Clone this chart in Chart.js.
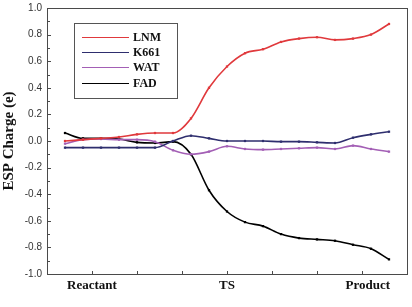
<!DOCTYPE html>
<html>
<head>
<meta charset="utf-8">
<script src="https://cdn.jsdelivr.net/npm/chart.js@4"></script>
<style>
html,body{margin:0;padding:0;background:#fff;}
#wrap{width:412px;height:307px;position:relative;}
</style>
</head>
<body>
<div id="wrap"><canvas id="c" width="412" height="307"></canvas></div>
<script>
// ---- data ----
const seriesNames = ['LNM', 'K661', 'WAT', 'FAD'];
const seriesColors = ['#e0393c', '#2e2e6e', '#a35fb5', '#000000'];
const xPositions = [0.4, 0.8, 1.2, 1.6, 2.0, 2.4, 2.8, 3.2, 3.6, 4.0, 4.4, 4.8, 5.2, 5.6, 6.0, 6.4, 6.8, 7.2, 7.6];
const lnm  = [0.00, 0.01, 0.02, 0.03, 0.05, 0.06, 0.06, 0.17, 0.40, 0.56, 0.66, 0.69, 0.745, 0.77, 0.78, 0.76, 0.77, 0.80, 0.88];
const k661 = [-0.05, -0.05, -0.05, -0.05, -0.05, -0.05, 0.00, 0.04, 0.02, 0.00, 0.00, 0.00, -0.005, -0.005, -0.01, -0.015, 0.025, 0.05, 0.07];
const wat  = [-0.02, 0.01, 0.015, 0.01, 0.01, -0.005, -0.07, -0.10, -0.08, -0.04, -0.06, -0.065, -0.06, -0.055, -0.05, -0.06, -0.035, -0.06, -0.08];
const fad  = [0.06, 0.02, 0.02, 0.015, -0.01, -0.015, -0.005, -0.10, -0.37, -0.53, -0.61, -0.64, -0.70, -0.73, -0.74, -0.75, -0.78, -0.81, -0.89];
const stageLabels = ['Reactant', 'TS', 'Product'];
const stagePositions = [1, 4, 7.13];
const yTicks = [-1.0, -0.8, -0.6, -0.4, -0.2, 0.0, 0.2, 0.4, 0.6, 0.8, 1.0];
const yTitle = 'ESP Charge (e)';

const allSeries = [lnm, k661, wat, fad];

const datasets = allSeries.map((vals, i) => ({
  label: seriesNames[i],
  data: vals.map((v, j) => ({x: xPositions[j], y: v})),
  borderColor: seriesColors[i],
  backgroundColor: seriesColors[i],
  borderWidth: 1.6,
  pointStyle: 'rect',
  pointRadius: 1.6,
  pointBorderWidth: 0,
  tension: 0.4,
  cubicInterpolationMode: 'monotone'
}));

const frameColor = '#4a4a4a';

const framePlugin = {
  id: 'frame',
  afterDraw(chart) {
    const {ctx, chartArea: a, scales} = chart;
    ctx.save();
    ctx.strokeStyle = frameColor;
    ctx.lineWidth = 1;
    ctx.strokeRect(Math.round(a.left) + 0.5, Math.round(a.top) + 0.5,
                   Math.round(a.right - a.left), Math.round(a.bottom - a.top));
    // y ticks (inward)
    ctx.beginPath();
    for (let k = -10; k <= 10; k++) {
      const y = Math.round(scales.y.getPixelForValue(k / 10)) + 0.5;
      const len = (k % 2 === 0) ? 4 : 3;
      ctx.moveTo(a.left, y);
      ctx.lineTo(a.left + len, y);
    }
    // x ticks (inward)
    for (let k = 1; k <= 7; k++) {
      const x = Math.round(scales.x.getPixelForValue(k)) + 0.5;
      ctx.moveTo(x, a.bottom);
      ctx.lineTo(x, a.bottom - 3);
    }
    ctx.stroke();

    // legend
    const lx = a.left + 27, ly = a.top + 15, lw = 103, lh = 75;
    ctx.strokeStyle = '#555';
    ctx.strokeRect(Math.round(lx) + 0.5, Math.round(ly) + 0.5, lw, lh);
    ctx.font = 'bold 12px "Liberation Serif", "Times New Roman", serif';
    ctx.textBaseline = 'middle';
    chart.data.datasets.forEach((ds, i) => {
      const yy = Math.round(ly + 14 + i * 15.2) + 0.5;
      ctx.strokeStyle = ds.borderColor;
      ctx.lineWidth = 1.1;
      ctx.beginPath();
      ctx.moveTo(lx + 8, yy);
      ctx.lineTo(lx + 55, yy);
      ctx.stroke();
      ctx.fillStyle = '#111';
      ctx.fillText(ds.label, lx + 59, yy + 0.5);
    });
    ctx.restore();
  }
};

new Chart(document.getElementById('c'), {
  type: 'line',
  data: {datasets},
  options: {
    responsive: false,
    animation: false,
    devicePixelRatio: 1,
    layout: {padding: {top: 8, right: 5, left: 0, bottom: 0}},
    plugins: {legend: {display: false}, tooltip: {enabled: false}},
    scales: {
      x: {
        type: 'linear', min: 0, max: 8,
        grid: {display: false, drawTicks: false},
        border: {display: false},
        afterBuildTicks(scale) { scale.ticks = stagePositions.map(v => ({value: v})); },
        afterFit(scale) { scale.height = 33; scale.paddingLeft = 0; scale.paddingRight = 0; },
        ticks: {
          autoSkip: false,
          maxRotation: 0,
          padding: 4,
          color: '#111',
          font: {family: '"Liberation Serif", "Times New Roman", serif', size: 13, weight: 'bold'},
          callback(v) { const i = stagePositions.indexOf(v); return i >= 0 ? stageLabels[i] : ''; }
        }
      },
      y: {
        min: -1, max: 1,
        grid: {display: false, drawTicks: false},
        border: {display: false},
        afterBuildTicks(scale) { scale.ticks = yTicks.map(v => ({value: v})); },
        afterFit(scale) { scale.width = 47; scale.paddingTop = 0; scale.paddingBottom = 0; },
        ticks: {
          padding: 5,
          color: '#333',
          font: {family: '"Liberation Sans", Arial, sans-serif', size: 10},
          callback(v) { return Number(v).toFixed(1); }
        },
        title: {
          display: true,
          text: yTitle,
          color: '#111',
          padding: {top: 0, bottom: 0},
          font: {family: '"Liberation Serif", "Times New Roman", serif', size: 15, weight: 'bold'}
        }
      }
    }
  },
  plugins: [framePlugin]
});
</script>
</body>
</html>
